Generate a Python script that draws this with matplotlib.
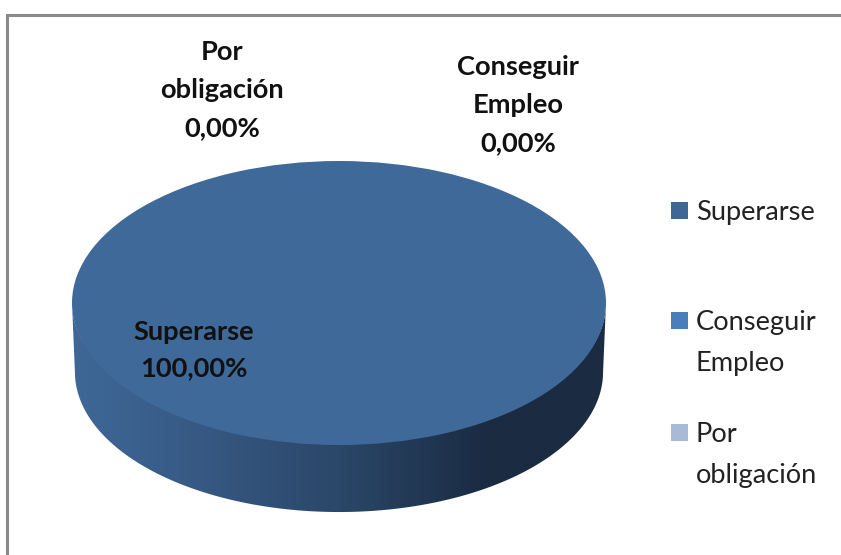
import numpy as np
import matplotlib
matplotlib.use('Agg')
import matplotlib.pyplot as plt
from matplotlib.colors import LinearSegmentedColormap
from matplotlib.patches import PathPatch, Rectangle
from matplotlib.path import Path

categories = ['Superarse', 'Conseguir\nEmpleo', 'Por\nobligación']
values = [100.0, 0.0, 0.0]
colors = ['#3e6999', '#4a7ebb', '#a9b9d8']
legend_colors = ['#3e6797', '#4a7ebb', '#a9b9d8']

W, H = 841, 555
plt.rcParams['font.family'] = ['Lato', 'DejaVu Sans']

fig = plt.figure(figsize=(W / 100, H / 100), dpi=100)

# overlay in pixel coordinates for frame, labels and legend
bg = fig.add_axes([0, 0, 1, 1])
bg.set_xlim(0, W)
bg.set_ylim(H, 0)
bg.axis('off')
bg.set_zorder(5)

# only the top and left frame lines show in the picture
bg.plot([7, 7, W], [H, 15, 15], color='#8a8a8a', lw=2.2, solid_joinstyle='miter')

# pie axes, squashed so the circle turns into the tilted ellipse
left, right, top, bottom = 72, 606, 161, 516
pad = 0.02
rx_px = (right - left) / 2
ax = fig.add_axes([(left - pad * rx_px) / W, (H - bottom) / H,
                   (right - left + 2 * pad * rx_px) / W, (bottom - top) / H])
ax.patch.set_alpha(0)

wedges, _ = ax.pie(values, colors=colors, startangle=90, radius=1,
                   wedgeprops={'linewidth': 0, 'zorder': 3})
ax.set_aspect('auto')

# side wall of the disc, gradient clipped to the band under the top face
# upper edge sits a bit inside the top face so no light seam shows
t = np.linspace(np.pi, 2 * np.pi, 200)
upper = np.column_stack([np.cos(t), 0.97 * np.sin(t)])
lower = np.column_stack([0.989 * np.cos(t[::-1]), -0.486 + 0.986 * np.sin(t[::-1])])
verts = np.vstack([upper, lower, upper[:1]])
codes = [Path.MOVETO] + [Path.LINETO] * (len(verts) - 2) + [Path.CLOSEPOLY]
band = PathPatch(Path(verts, codes), facecolor='none', edgecolor='none', transform=ax.transData)
ax.add_patch(band)

side_cmap = LinearSegmentedColormap.from_list(
    'side', [(0, '#3f6897'), (0.2, '#385b87'), (0.5, '#2b4769'), (0.78, '#1a2b42'), (1, '#1a2b42')])
grad = ax.imshow(np.linspace(0, 1, 512)[None, :], cmap=side_cmap, extent=(-1, 1, -1.5, 0.1),
                 aspect='auto', zorder=2, interpolation='bilinear')
grad.set_clip_path(band)
ax.set_xlim(-1 - pad, 1 + pad)
ax.set_ylim(-1.5, 1)

# data labels
label_font = dict(fontsize=19.6, fontweight='bold', color='#111111', ha='center', va='center',
                  linespacing=1.7)
bg.text(222, 90, categories[2] + '\n' + f'{values[2]:.2f}%'.replace('.', ','), **label_font)
bg.text(518, 105, categories[1] + '\n' + f'{values[1]:.2f}%'.replace('.', ','), **label_font)
bg.text(194, 350, categories[0] + '\n' + f'{values[0]:.2f}%'.replace('.', ','),
        **{**label_font, 'linespacing': 1.62})

# legend
legend_y = [211, 321, 433]
for name, col, y in zip(categories, legend_colors, legend_y):
    bg.add_patch(Rectangle((671, y - 9), 17, 17, facecolor=col, edgecolor='none'))
    bg.text(696, y - 11, name, fontsize=19.6, color='#222222', ha='left', va='top', linespacing=1.78)

fig.savefig('out.png', dpi=100, facecolor='white')
